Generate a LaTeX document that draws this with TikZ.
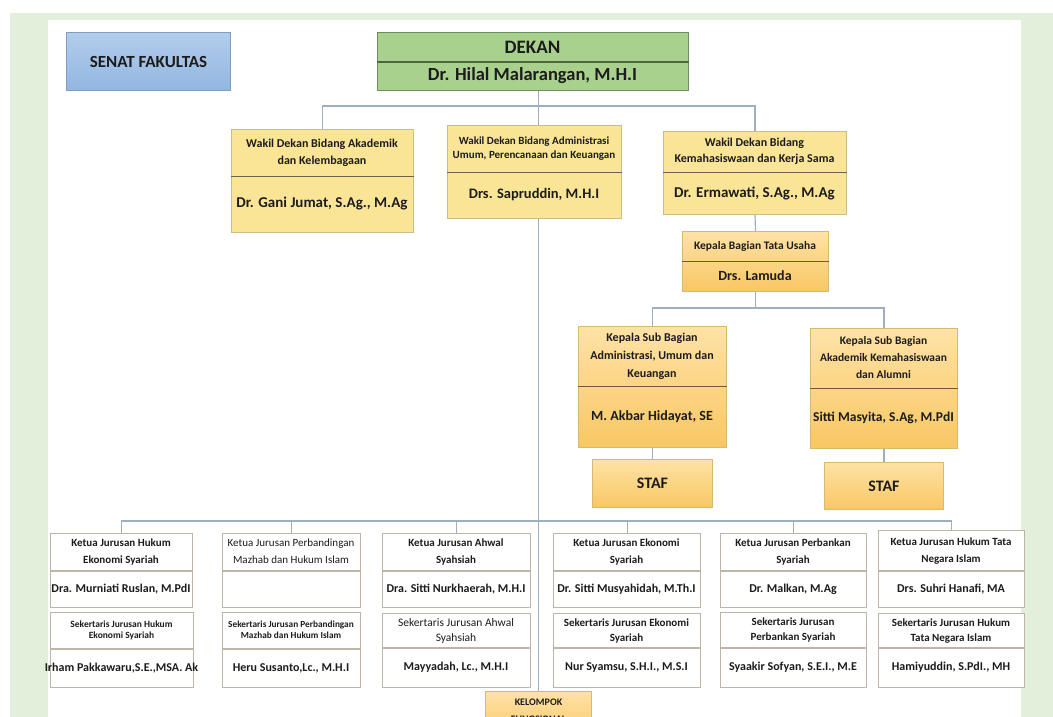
\documentclass[tikz,border=0pt]{standalone}
\usepackage{fontspec}
\setmainfont{Carlito}
\usetikzlibrary{calc}
\definecolor{bggreen}{HTML}{E2EFDA}
\definecolor{yfill}{HTML}{FAE597}
\definecolor{ybord}{HTML}{C9BE86}
\definecolor{ydiv}{HTML}{6B6446}
\definecolor{otop}{HTML}{FFE2A6}
\definecolor{obot}{HTML}{F8C763}
\definecolor{obord}{HTML}{D9B870}
\definecolor{odiv}{HTML}{6E5A33}
\definecolor{gfill}{HTML}{A9D18E}
\definecolor{gbord}{HTML}{6F8F5C}
\definecolor{gdiv}{HTML}{4C663D}
\definecolor{btop}{HTML}{B2CDEC}
\definecolor{bbot}{HTML}{93B6E0}
\definecolor{bbord}{HTML}{7F9CC2}
\definecolor{wbord}{HTML}{BDB6A6}
\definecolor{lcol}{HTML}{9DB0C2}
\definecolor{txt}{HTML}{1C1C1C}
\newcommand\fs[2]{\fontsize{#1}{#2}\selectfont}
\newcommand\tl[3]{\fs{#1}{#2}\begin{tabular}{@{}c@{}}#3\end{tabular}}
% #1 name, #2 style, #3 x1, #4 y1, #5 x2, #6 y2, #7 ydiv, #8 title, #9 person
\newcommand\obox[9]{%
  \node[#2, anchor=north west, inner sep=0pt, minimum width={(#5-#3)*1pt}, minimum height={(#6-#4)*1pt}] (#1) at (#3,#4) {};
  \coordinate (#1-d) at (0,#7);
  \draw[#2div] (#1.west |- #1-d) -- (#1.east |- #1-d);
  \node[lbl] (#1-t) at ({(#3+#5)/2},{(#4+#7)/2}) {#8};
  \node[lbl] (#1-n) at ({(#3+#5)/2},{(#7+#6)/2}) {#9};
}
\begin{document}
\begin{tikzpicture}[x=1pt,y=-1pt,
  lbl/.style={inner sep=1pt, text=txt, font=\bfseries},
  yel/.style={draw=ybord, fill=yfill, line width=1pt},
  yeldiv/.style={draw=ydiv, line width=1pt},
  ora/.style={draw=obord, top color=otop, bottom color=obot, line width=1pt},
  oradiv/.style={draw=odiv, line width=1pt},
  grn/.style={draw=gbord, fill=gfill, line width=1pt},
  grndiv/.style={draw=gdiv, line width=1.2pt},
  wht/.style={draw=wbord, fill=white, line width=1.4pt},
  whtdiv/.style={draw=wbord, line width=1.4pt},
  conn/.style={draw=lcol, line width=1.2pt}]
\useasboundingbox (0,0) rectangle (1053,717);
\fill[white] (0,0) rectangle (1053,717);
\fill[bggreen] (10,13) rectangle (1053,717);
\fill[white] (48,20) rectangle (1021,717);

% Senat
\node[draw=bbord, top color=btop, bottom color=bbot, line width=1pt, anchor=north west, minimum width=164pt, minimum height=58pt, inner sep=0pt, text=txt, font=\bfseries\fs{17}{19}] (senat) at (66,32) {SENAT FAKULTAS};

% Dekan
\obox{dekan}{grn}{377}{32}{688}{90}{62}{\fs{19}{21}DEKAN}{\fs{18.5}{21}Dr. Hilal Malarangan, M.H.I}

% Wakil Dekan
\obox{wd1}{yel}{231}{129}{413}{232}{176}{\tl{12}{17}{Wakil Dekan Bidang Akademik\\dan Kelembagaan}}{\fs{15}{17}Dr. Gani Jumat, S.Ag., M.Ag}
\obox{wd2}{yel}{447}{125}{621}{218}{172}{\tl{11}{14.5}{Wakil Dekan Bidang Administrasi\\Umum, Perencanaan dan Keuangan}}{\fs{14.5}{17}Drs. Sapruddin, M.H.I}
\obox{wd3}{yel}{663}{131}{846}{214}{172}{\tl{12}{16}{Wakil Dekan Bidang\\Kemahasiswaan dan Kerja Sama}}{\fs{15}{17}Dr. Ermawati, S.Ag., M.Ag}

% Tata Usaha
\obox{kabag}{ora}{682}{231}{828}{291}{261}{\fs{11.5}{14}Kepala Bagian Tata Usaha}{\fs{14}{17}Drs. Lamuda}
\obox{ks1}{ora}{578}{326}{726}{447}{386}{\tl{12}{18}{Kepala Sub Bagian\\Administrasi, Umum dan\\Keuangan}}{\fs{14}{17}M. Akbar Hidayat, SE}
\obox{ks2}{ora}{810}{328}{957}{448}{388}{\tl{11.5}{17}{Kepala Sub Bagian\\Akademik Kemahasiswaan\\dan Alumni}}{\fs{13.5}{17}Sitti Masyita, S.Ag, M.PdI}
\node[ora, anchor=north west, minimum width=120pt, minimum height=48pt, inner sep=0pt, text=txt, font=\bfseries\fs{16}{18}] (staf1) at (592,459) {STAF};
\node[ora, anchor=north west, minimum width=119pt, minimum height=47pt, inner sep=0pt, text=txt, font=\bfseries\fs{16}{18}] (staf2) at (824,462) {STAF};

% Jurusan - Ketua
\obox{k1}{wht}{50}{533}{192}{607}{571}{\tl{11}{17}{Ketua Jurusan Hukum\\Ekonomi Syariah}}{\fs{12}{14}Dra. Murniati Ruslan, M.PdI}
\obox{k2}{wht}{222}{533}{360}{607}{571}{\mdseries\tl{11}{17}{Ketua Jurusan Perbandingan\\Mazhab dan Hukum Islam}}{}
\obox{k3}{wht}{382}{533}{530}{607}{571}{\tl{11}{17}{Ketua Jurusan Ahwal\\Syahsiah}}{\fs{12}{14}Dra. Sitti Nurkhaerah, M.H.I}
\obox{k4}{wht}{553}{533}{700}{607}{571}{\tl{11}{17}{Ketua Jurusan Ekonomi\\Syariah}}{\fs{12}{14}Dr. Sitti Musyahidah, M.Th.I}
\obox{k5}{wht}{720}{533}{866}{607}{571}{\tl{11}{17}{Ketua Jurusan Perbankan\\Syariah}}{\fs{12}{14}Dr. Malkan, M.Ag}
\obox{k6}{wht}{878}{530}{1024}{607}{571}{\tl{11}{17}{Ketua Jurusan Hukum Tata\\Negara Islam}}{\fs{12}{14}Drs. Suhri Hanafi, MA}

% Jurusan - Sekertaris
\obox{s1}{wht}{50}{612}{193}{687}{649}{\tl{9.5}{11.5}{Sekertaris Jurusan Hukum\\Ekonomi Syariah}}{\fs{12}{14}Irham Pakkawaru,S.E.,MSA. Ak}
\obox{s2}{wht}{222}{612}{360}{687}{649}{\tl{9.3}{11.5}{Sekertaris Jurusan Perbandingan\\Mazhab dan Hukum Islam}}{\fs{12}{14}Heru Susanto,Lc., M.H.I}
\obox{s3}{wht}{382}{613}{530}{687}{648}{\mdseries\tl{11.5}{15}{Sekertaris Jurusan Ahwal\\Syahsiah}}{\fs{12}{14}Mayyadah, Lc., M.H.I}
\obox{s4}{wht}{553}{613}{700}{687}{648}{\tl{11}{15}{Sekertaris Jurusan Ekonomi\\Syariah}}{\fs{12}{14}Nur Syamsu, S.H.I., M.S.I}
\obox{s5}{wht}{720}{612}{866}{687}{648}{\tl{11}{15}{Sekertaris Jurusan\\Perbankan Syariah}}{\fs{12}{14}Syaakir Sofyan, S.E.I., M.E}
\obox{s6}{wht}{878}{613}{1024}{687}{648}{\tl{11}{15}{Sekertaris Jurusan Hukum\\Tata Negara Islam}}{\fs{12}{14}Hamiyuddin, S.PdI., MH}

% Kelompok Fungsional
\node[ora, anchor=north west, minimum width=106pt, minimum height=50pt, inner sep=0pt] (kf) at (485,691) {};
\node[lbl, anchor=north] (kf-t) at ([yshift=-1pt]kf.north) {\tl{10}{17}{KELOMPOK\\FUNGSIONAL}};

% Connectors
\coordinate (hb) at (0,106);
\coordinate (hk) at (0,308);
\coordinate (hj) at (0,521);
\draw[conn] (kf.north |- dekan.south) -- (kf.north |- wd2.north);
\draw[conn] (wd1.north) -- (wd1.north |- hb) -- (wd3.north |- hb) -- (wd3.north);
\draw[conn] (kf.north |- wd2.south) -- (kf.north);
\draw[conn] (wd3.south) -- (kabag.north);
\draw[conn] (kabag.south) -- (kabag.south |- hk);
\draw[conn] (ks1.north) -- (ks1.north |- hk) -- (ks2.north |- hk) -- (ks2.north);
\draw[conn] (ks1.south) -- (staf1.north);
\draw[conn] (ks2.south) -- (staf2.north);
\draw[conn] (k1.north) -- (k1.north |- hj) -- (k6.north |- hj) -- (k6.north);
\foreach \k in {k2,k3,k4,k5} { \draw[conn] (\k.north) -- (\k.north |- hj); }
\end{tikzpicture}
\end{document}
